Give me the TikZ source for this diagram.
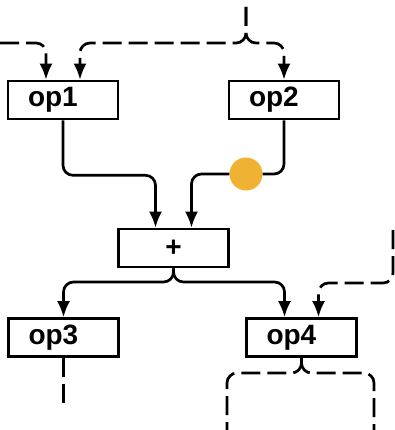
\documentclass[tikz,border=0pt]{standalone}
\usepackage{fontspec}
\setmainfont{Liberation Sans}
\usetikzlibrary{arrows.meta}
\definecolor{tapcolor}{RGB}{240,178,50}
\tikzset{
  opbox/.style={draw, line width=2.6pt, minimum width=110pt, minimum height=38pt,
    inner xsep=20pt, inner ysep=0pt, text width=70pt, align=left,
    font=\fontsize{28}{30}\selectfont\bfseries},
  tap/.style={circle, fill=tapcolor, minimum size=33pt, inner sep=0pt},
}
\begin{document}
\begin{tikzpicture}[x=1pt, y=-1pt,
  link/.style={line width=2.7pt, rounded corners=10pt},
  feed/.style={link, -{Latex[length=16pt,width=13pt]}},
  ghost/.style={dash pattern=on 19pt off 7pt}]
\useasboundingbox (0,0) rectangle (395,430);
\node[opbox] (op1) at (63,100) {op1};
\node[opbox] (op2) at (284,100) {op2};
\node[opbox, align=center] (sum) at (173.5,248) {+};
\node[opbox] (op3) at (63.5,337.5) {op3};
\node[opbox] (op4) at (301.5,337.5) {op4};
\node[tap] (tap) at (246,174) {};
% free ends and forks
\coordinate (srcLeft) at (0,43);
\coordinate (srcTop) at (246,7);
\coordinate (fork1) at (246,43);
\coordinate (srcRight) at (393,230);
\coordinate (bend4) at (393,283);
\coordinate (fork2) at (173.5,282);
\coordinate (fork3) at (301.5,373);
\coordinate (out3) at (63.5,404);
\coordinate (out4a) at (227,430);
\coordinate (out4b) at (374,430);
% inputs
\draw[feed, ghost] (srcLeft) -| ([xshift=-17pt]op1.north);
\draw[feed, ghost] (srcTop) -- (fork1) -| ([xshift=17pt]op1.north);
\draw[feed, ghost] (srcTop) -- (fork1) -| (op2.north);
% into the sum
\draw[feed] (op1.south) -- ++(0,55) -| ([xshift=-18pt]sum.north);
\draw[feed] (op2.south) |- (tap) -| ([xshift=18pt]sum.north);
% out of the sum
\draw[feed] (sum.south) -- (fork2) -| (op3.north);
\draw[feed] (sum.south) -- (fork2) -| ([xshift=-17pt]op4.north);
\draw[feed, ghost] (srcRight) -- (bend4) -| ([xshift=17pt]op4.north);
% outputs
\draw[link, ghost] (op3.south) -- (out3);
\draw[link, ghost] (op4.south) -- (fork3) -| (out4a);
\draw[link, ghost] (op4.south) -- (fork3) -| (out4b);
\end{tikzpicture}
\end{document}
